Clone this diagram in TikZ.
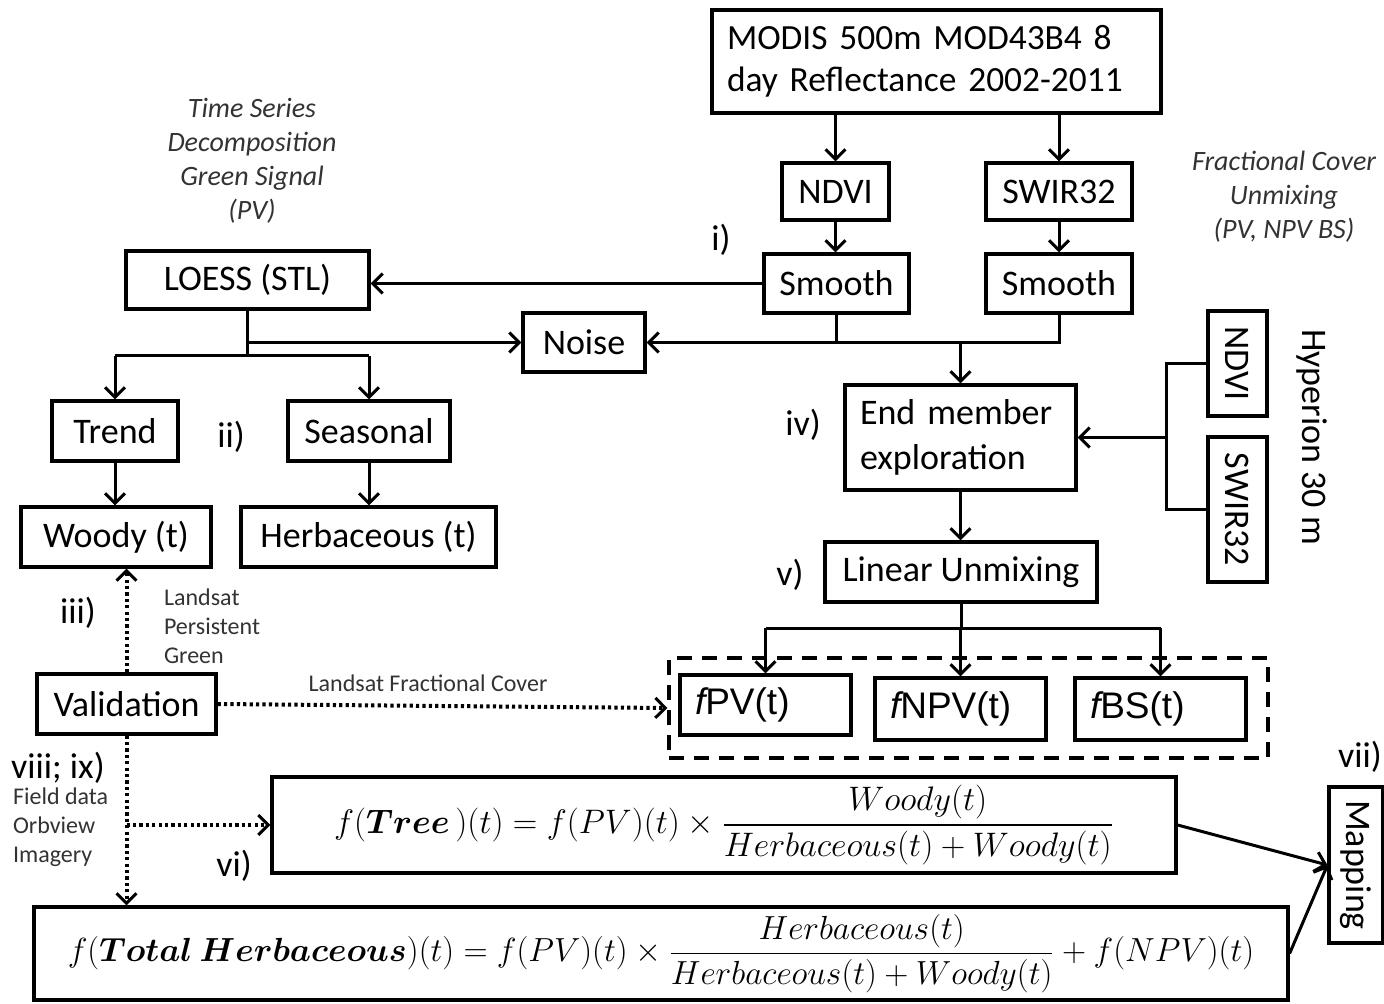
\documentclass[tikz,border=0pt]{standalone}
\usepackage{amsmath}
\usepackage{graphicx}
\usepackage[no-math]{fontspec}
\setmainfont{Carlito}
\newfontfamily\arialf{Liberation Sans}
\usetikzlibrary{arrows.meta}
\tikzset{
  box/.style={draw, line width=1.6pt, inner sep=0pt, align=center, font=\fontsize{18}{21}\selectfont},
  lbox/.style={box, align=left, inner xsep=7.5pt},
  fbox/.style={draw, line width=1.6pt, inner sep=0pt, inner xsep=7.5pt, align=left, text width=70.5pt, font=\arialf\fontsize{18.5}{21}\selectfont},
  ln/.style={line width=1.5pt},
  arr/.style={line width=1.5pt, -{Straight Barb[length=5pt,width=10pt,line width=1.5pt]}},
  darr/.style={line width=2pt, dash pattern=on 1.6pt off 1.6pt, -{Straight Barb[length=5pt,width=10pt,line width=1.5pt]}},
  lab/.style={font=\fontsize{18}{21}\selectfont},
  small/.style={font=\fontsize{12}{14.5}\selectfont, text=black!80},
  ital/.style={font=\fontsize{14}{17}\selectfont\itshape, align=center, text=black!80},
  formula/.style={draw, line width=1.6pt, inner sep=0pt, font=\fontsize{17}{20}\selectfont},
}
\begin{document}
\begin{tikzpicture}[x=0.5pt,y=-0.5pt]
\fill[white] (0,0) rectangle (1384,1004);
\useasboundingbox (0,0) rectangle (1384,1004);

% boxes
\node[lbox, text width=209.5pt, minimum height=51.5pt, font=\fontsize{17.7}{21}\selectfont] (modis) at (936.5,61.5) {MODIS 500m MOD43B4 8\\day Reflectance 2002-2011};
\node[box, minimum width=53.5pt, minimum height=28.5pt] (ndvi) at (835.5,191.5) {NDVI};
\node[box, minimum width=73pt, minimum height=28.5pt] (swir) at (1059,191.5) {SWIR32};
\node[box, minimum width=72.5pt, minimum height=29.5pt] (sm1) at (836.5,283.5) {Smooth};
\node[box, minimum width=73pt, minimum height=29.5pt] (sm2) at (1059,283.5) {Smooth};
\node[box, minimum width=121.5pt, minimum height=29pt] (loess) at (247.5,280) {LOESS (STL)};
\node[box, minimum width=61pt, minimum height=29.5pt] (noise) at (584,342.5) {Noise};
\node[box, minimum width=63pt, minimum height=30pt] (trend) at (115,431) {Trend};
\node[box, minimum width=81pt, minimum height=30pt] (seasonal) at (369,431) {Seasonal};
\node[box, minimum width=95pt, minimum height=30pt] (woody) at (116,537) {Woody (t)};
\node[box, minimum width=127.5pt, minimum height=30pt] (herb) at (368.5,537) {Herbaceous (t)};
\node[lbox, text width=100.5pt, minimum height=52.5pt, font=\fontsize{18}{22.5}\selectfont] (endm) at (960.5,437.5) {End member\\exploration};
\node[box, rotate=-90, minimum width=52.5pt, minimum height=29.5pt] (hndvi) at (1237.5,363.5) {NDVI};
\node[box, rotate=-90, minimum width=72.5pt, minimum height=29.5pt] (hswir) at (1237.5,509.5) {SWIR32};
\node[lab, rotate=-90] (hyp) at (1312,437) {Hyperion 30 m};
\node[box, minimum width=136pt, minimum height=30pt] (lu) at (961,572) {Linear Unmixing};
\node[draw, line width=1.6pt, dash pattern=on 7.5pt off 5pt, minimum width=299.5pt, minimum height=50pt, inner sep=0pt] (dash) at (968.5,708) {};
\node[fbox, minimum height=30pt] (fpv) at (765.5,705) {{\itshape f}PV(t)};
\node[fbox, minimum height=31pt] (fnpv) at (960.5,709) {{\itshape f}NPV(t)};
\node[fbox, minimum height=31pt] (fbs) at (1160.5,709) {{\itshape f}BS(t)};
\node[box, minimum width=89.5pt, minimum height=30pt] (valid) at (126.5,704) {Validation};
\node[formula, minimum width=452pt, minimum height=48pt] (tree) at (724,825)
  {\scalebox{0.983}{$f(\boldsymbol{Tree}\,)(t) = f(PV)(t)\times\dfrac{Woody(t)}{Herbaceous(t)+Woody(t)}$}};
\node[formula, minimum width=627pt, minimum height=46.5pt] (total) at (661,953.5)
  {\scalebox{0.967}{$f(\boldsymbol{Total\ Herbaceous})(t) = f(PV)(t)\times\dfrac{Herbaceous(t)}{Herbaceous(t)+Woody(t)}+f(NPV)(t)$}};
\node[box, rotate=-90, minimum width=78pt, minimum height=27pt] (mapping) at (1356,865) {Mapping};

% labels
\node[lab] (li) at (721,240) {i)};
\node[lab] (lii) at (231,437) {ii)};
\node[lab] (liii) at (78,613) {iii)};
\node[lab] (liv) at (803,425) {iv)};
\node[lab] (lv) at (790,575) {v)};
\node[lab] (lvi) at (234,866) {vi)};
\node[lab] (lvii) at (1360,757) {vii)};
\node[lab] (lviii) at (58,768) {viii; ix)};
\node[small, align=left, anchor=west] (lps) at (157,626) {Landsat\\Persistent\\Green};
\node[small] (lfc) at (428,683) {Landsat Fractional Cover};
\node[small, align=left, anchor=west] (lfd) at (6,827) {Field data\\Orbview\\Imagery};
\node[ital] (tsd) at (252,161) {Time Series\\Decomposition\\Green Signal\\(PV)};
\node[ital] (fcu) at (1284,197) {Fractional Cover\\Unmixing\\(PV, NPV BS)};

% connectors
\draw[arr] (ndvi.north |- modis.south) -- (ndvi.north);
\draw[arr] (swir.north |- modis.south) -- (swir.north);
\draw[arr] (ndvi.south) -- (sm1.north -| ndvi.south);
\draw[arr] (swir.south) -- (sm2.north);
\draw[arr] (sm1.west) -- (sm1.west -| loess.east);

\coordinate (j1) at (247.5,356);
\draw[ln] (loess.south) -- (j1);
\draw[arr] (loess.south |- noise.west) -- (noise.west);
\draw[ln] (trend.north |- j1) -- (seasonal.north |- j1);
\draw[arr] (trend.north |- j1) -- (trend.north);
\draw[arr] (seasonal.north |- j1) -- (seasonal.north);
\draw[arr] (trend.south) -- (woody.north -| trend.south);
\draw[arr] (seasonal.south) -- (herb.north -| seasonal.south);

\coordinate (j2) at (1059,342.5);
\draw[ln] (sm1.south) -- (sm1.south |- j2);
\draw[arr] (sm2.south) -- (j2) -- (noise.east);
\draw[arr] (endm.north |- j2) -- (endm.north);

\coordinate (j3) at (1166,437.5);
\draw[ln] (hndvi.south) -- (hndvi.south -| j3) -- (hswir.south -| j3) -- (hswir.south);
\draw[arr] (j3) -- (endm.east);

\draw[arr] (endm.south) -- (lu.north -| endm.south);
\coordinate (j4) at (961,628);
\draw[ln] (lu.south) -- (j4);
\draw[ln] (fpv.north |- j4) -- (fbs.north |- j4);
\draw[arr] (fpv.north |- j4) -- (fpv.north);
\draw[arr] (fnpv.north |- j4) -- (fnpv.north);
\draw[arr] (fbs.north |- j4) -- (fbs.north);

\draw[darr] (valid.north) -- (valid.north |- woody.south);
\draw[darr] (valid.east) -- (dash.west);
\draw[darr] (valid.south) -- (valid.south |- total.north);
\draw[darr] (valid.south |- tree.west) -- (tree.west);

\draw[arr] (tree.east) -- (mapping.south);
\draw[arr] (total.east) -- (mapping.south);
\end{tikzpicture}
\end{document}
